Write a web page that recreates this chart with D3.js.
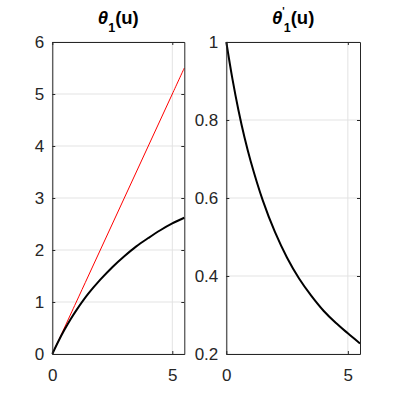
<!DOCTYPE html>
<html><head><meta charset="utf-8">
<script src="https://cdn.jsdelivr.net/npm/d3@7"></script>
<style>body{margin:0;background:#fff}svg{display:block}</style>
</head><body>
<svg id="c" width="399" height="399"></svg>
<script>
const u = [0, 0.25, 0.5, 0.75, 1, 1.5, 2, 2.5, 3, 3.5, 4, 4.5, 5, 5.5];
const theta = [0, 0.24, 0.46, 0.66, 0.84, 1.16, 1.43, 1.67, 1.88, 2.07, 2.23, 2.38, 2.51, 2.62];
const thetaLinear = [0, 0.25, 0.5, 0.75, 1, 1.5, 2, 2.5, 3, 3.5, 4, 4.5, 5, 5.5];
const thetaPrime = [1, 0.906, 0.825, 0.755, 0.695, 0.594, 0.513, 0.447, 0.393, 0.349, 0.311, 0.280, 0.253, 0.227];
const xTicks = [0, 5];
const yTicksLeft = [0, 1, 2, 3, 4, 5, 6];
const yTicksRight = [0.2, 0.4, 0.6, 0.8, 1];
const yLabelsRight = ["0.2", "0.4", "0.6", "0.8", "1"];

const svg = d3.select("#c");
const axisCol = "#262626", gridCol = "#e3e3e3";
const font = "'Liberation Sans', Arial, sans-serif";

function panel(x0, x1, yDom, yTicks, yLabels, series, titleParts) {
  const top = 42, bottom = 354;
  const x = d3.scaleLinear().domain([0, 5.5]).range([x0, x1]);
  const y = d3.scaleLinear().domain(yDom).range([bottom, top]);
  const g = svg.append("g");
  g.selectAll(".gy").data(yTicks).join("line")
    .attr("x1", x0).attr("x2", x1).attr("y1", d => y(d)).attr("y2", d => y(d))
    .attr("stroke", gridCol).attr("stroke-width", 1);
  g.selectAll(".gx").data(xTicks).join("line")
    .attr("x1", d => x(d)).attr("x2", d => x(d)).attr("y1", top).attr("y2", bottom)
    .attr("stroke", gridCol).attr("stroke-width", 1);
  series.forEach(s => {
    g.append("path").datum(u.map((d, i) => [d, s.values[i]]))
      .attr("fill", "none").attr("stroke", s.color).attr("stroke-width", s.width)
      .attr("d", d3.line().x(d => x(d[0])).y(d => y(d[1])).curve(d3.curveCatmullRom.alpha(0.5)));
  });
  const axB = d3.axisBottom(x).tickValues(xTicks).tickSizeInner(-3).tickSizeOuter(0).tickPadding(15).tickFormat(d3.format("d"));
  const axT = d3.axisTop(x).tickValues(xTicks).tickSizeInner(-3).tickSizeOuter(0).tickFormat("");
  const axL = d3.axisLeft(y).tickValues(yTicks).tickSizeInner(-3).tickSizeOuter(0).tickPadding(8).tickFormat((d, i) => yLabels[i]);
  const axR = d3.axisRight(y).tickValues(yTicks).tickSizeInner(-3).tickSizeOuter(0).tickFormat("");
  [[axB, `translate(0,${bottom})`], [axT, `translate(0,${top})`], [axL, `translate(${x0},0)`], [axR, `translate(${x1},0)`]].forEach(([a, t]) => {
    const ag = g.append("g").attr("transform", t).call(a);
    ag.select(".domain").attr("stroke", axisCol).attr("stroke-width", 1);
    ag.selectAll(".tick line").attr("stroke", axisCol);
    ag.selectAll("text").attr("fill", axisCol).style("font-family", font).style("font-size", "17px");
  });
  const t = svg.append("text").attr("x", (x0 + x1) / 2).attr("y", 24).attr("text-anchor", "middle")
    .style("font-family", font).style("font-size", "18.5px").style("font-weight", "bold").attr("fill", "#000");
  titleParts(t);
}

panel(52.3, 184.3, [0, 6], yTicksLeft, yTicksLeft.map(String), [
  {values: thetaLinear, color: "#ff0000", width: 1},
  {values: theta, color: "#000", width: 2}
], t => {
  t.append("tspan").text("θ").style("font-style", "italic");
  t.append("tspan").text("1").attr("dy", 8).style("font-size", "12.5px");
  t.append("tspan").text("(u)").attr("dy", -8);
});

panel(226.3, 360, [0.2, 1], yTicksRight, yLabelsRight, [
  {values: thetaPrime, color: "#000", width: 2}
], t => {
  t.append("tspan").text("θ").style("font-style", "italic");
  t.append("tspan").text("'").attr("dy", -9).attr("dx", 0).style("font-size", "10px");
  t.append("tspan").text("1").attr("dy", 17).attr("dx", -1).style("font-size", "12.5px");
  t.append("tspan").text("(u)").attr("dy", -8);
});
</script>
</body></html>
